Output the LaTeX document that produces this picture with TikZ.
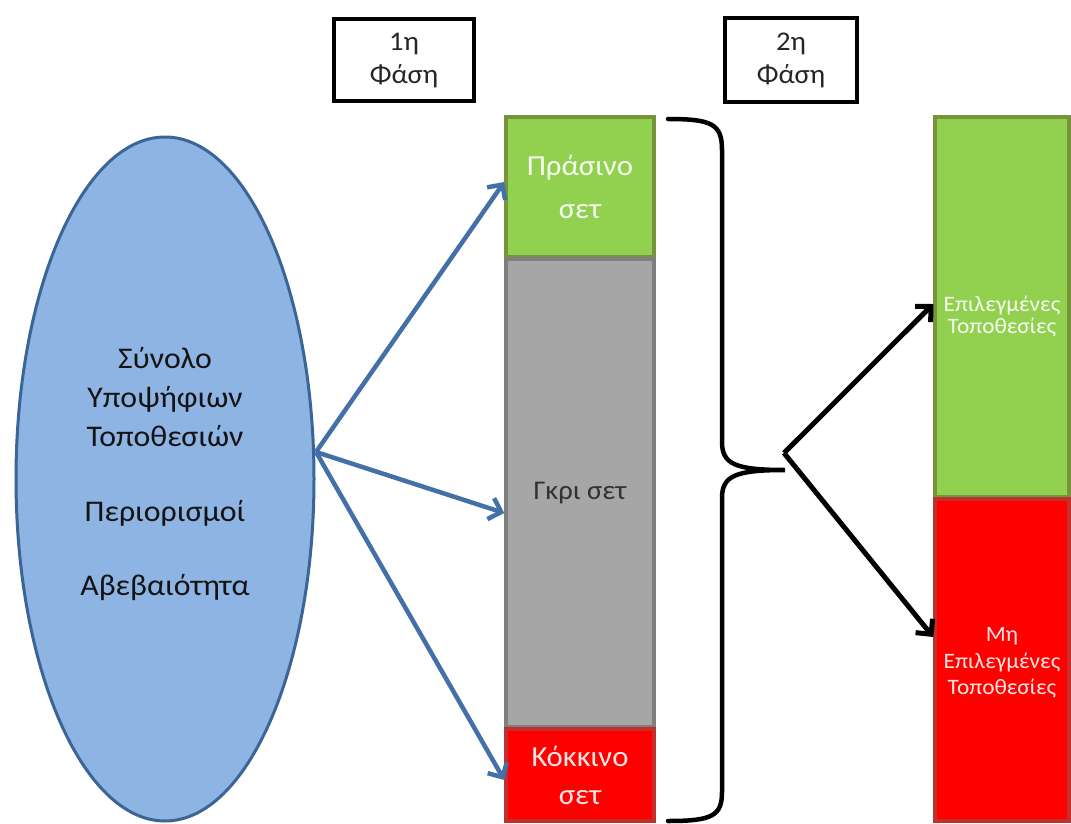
\documentclass[tikz,border=0pt]{standalone}
\usepackage{fontspec}
\setmainfont{Carlito}[FakeStretch=1.06]
\usetikzlibrary{shapes.geometric,arrows.meta}
\definecolor{gfill}{HTML}{92D050}
\definecolor{gdraw}{HTML}{77933C}
\definecolor{grfill}{HTML}{A6A6A6}
\definecolor{grdraw}{HTML}{7F7F7F}
\definecolor{rfill}{HTML}{FF0000}
\definecolor{rdraw}{HTML}{C0302D}
\definecolor{efill}{HTML}{8DB4E2}
\definecolor{edraw}{HTML}{3A6596}
\definecolor{barrow}{HTML}{4470A8}
\begin{document}
\begin{tikzpicture}[x=1pt,y=-1pt,
  phasebox/.style={draw=black,line width=3.5pt,fill=white,align=center,inner sep=0pt,font=\fontsize{27}{33}\selectfont,text=black!85},
  setbox/.style={line width=3.5pt,align=center,inner sep=0pt,minimum width=148pt},
  elltxt/.style={font=\fontsize{30}{40}\selectfont,text=black!92,align=center},
  blarrow/.style={draw=barrow,line width=4.5pt,-{Straight Barb[length=11pt,width=22pt,line width=4.5pt]}},
  bkarrow/.style={draw=black,line width=5pt,-{Straight Barb[length=11pt,width=22pt,line width=5pt]}}]
\useasboundingbox (0,0) rectangle (1071,824);
% ellipse
\node[ellipse,draw=edraw,fill=efill,line width=3pt,minimum width=298pt,minimum height=684pt,inner sep=0pt] (ell) at (165,479) {};
\node[elltxt] (t1) at (165,397) {Σύνολο\\[-1pt]Υποψήφιων\\[-1pt]Τοποθεσιών};
\node[elltxt] (t2) at (165,513) {Περιορισμοί};
\node[elltxt] (t3) at (165,588) {Αβεβαιότητα};
% phase boxes
\node[phasebox,minimum width=140pt,minimum height=82pt] (p1) at (404,60) {1η\\Φάση};
\node[phasebox,minimum width=132pt,minimum height=84pt] (p2) at (791,60) {2η\\Φάση};
% first column
\node[setbox,draw=gdraw,fill=gfill,minimum height=140pt,text=white!92!gfill,font=\fontsize{29}{43}\selectfont] (green) at (580,187) {Πράσινο\\σετ};
\node[setbox,draw=grdraw,fill=grfill,minimum height=468pt,text=black!80,font=\fontsize{27}{32}\selectfont] (gray) at (580,493) {Γκρι σετ};
\node[setbox,draw=rdraw,fill=rfill,minimum height=92pt,text=white!90!rfill,font=\fontsize{29}{38}\selectfont] (red) at (580,775) {Κόκκινο\\σετ};
% second column
\node[line width=3.5pt,draw=gdraw,fill=gfill,minimum width=134pt,minimum height=380pt,inner sep=0pt] (sel) at (1002,307) {};
\node[line width=3.5pt,draw=rdraw,fill=rfill,minimum width=134pt,minimum height=322pt,inner sep=0pt] (nsel) at (1002,660) {};
\node[align=center,text=white!92!gfill,font=\fontsize{22}{22}\selectfont] (seltxt) at (1002,316) {Επιλεγμένες\\Τοποθεσίες};
\node[align=center,text=white!90!rfill,font=\fontsize{22}{26.5}\selectfont] (nseltxt) at (1002,663) {Μη\\Επιλεγμένες\\Τοποθεσίες};
% blue arrows
\coordinate (src) at (316,452);
\draw[blarrow] (src) -- ([yshift=5pt]green.west);
\draw[blarrow] (src) -- ([yshift=-20pt]gray.west);
\draw[blarrow] (src) -- ([yshift=-5pt]red.west);
% brace
\coordinate (btop) at (668,119);
\coordinate (bbot) at (668,821);
\coordinate (btip) at (785,470);
\draw[line width=4.5pt,line cap=round] (btop) .. controls (712,119) and (722,124) .. (722,150) -- (722,442)
  .. controls (722,464) and (735,470) .. (btip)
  .. controls (735,470) and (722,476) .. (722,498) -- (722,792)
  .. controls (722,816) and (712,821) .. (bbot);
% black arrows
\coordinate (fork) at (784,453);
\draw[bkarrow,line join=miter] (fork) -- ([yshift=3pt]sel.west);
\draw[bkarrow] (fork) -- ([yshift=23pt]nsel.west);
\end{tikzpicture}
\end{document}
